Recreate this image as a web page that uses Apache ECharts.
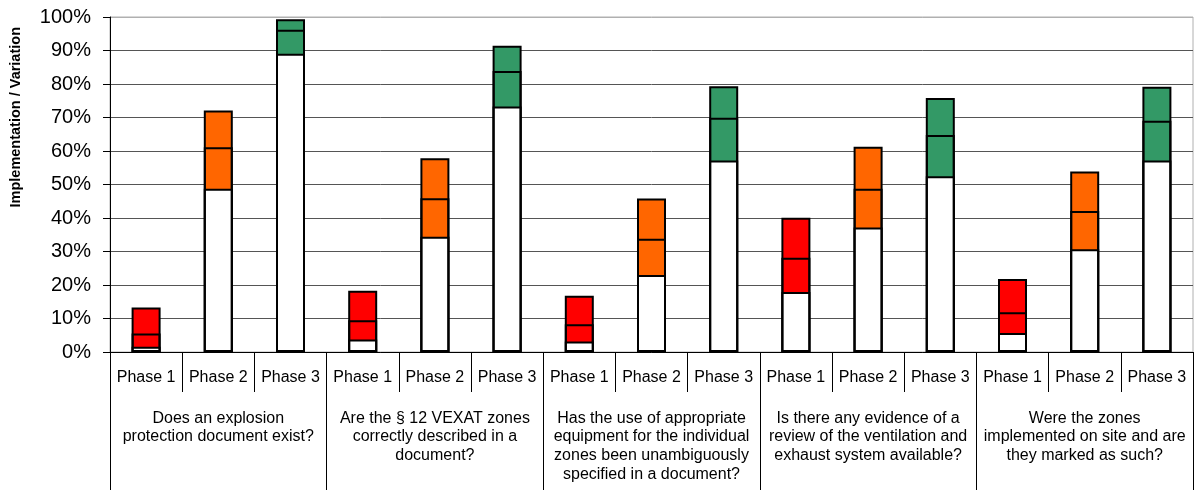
<!DOCTYPE html>
<html>
<head>
<meta charset="utf-8">
<script src="https://cdn.jsdelivr.net/npm/echarts@6/dist/echarts.min.js"></script>
<style>html,body{margin:0;padding:0;background:#fff}#chart{width:1196px;height:492px}</style>
</head>
<body>
<div id="chart"></div>
<script>
const phases = ['Phase 1', 'Phase 2', 'Phase 3'];
const questions = [
  'Does an explosion\nprotection document exist?',
  'Are the § 12 VEXAT zones\ncorrectly described in a\ndocument?',
  'Has the use of appropriate\nequipment for the individual\nzones been unambiguously\nspecified in a document?',
  'Is there any evidence of a\nreview of the ventilation and\nexhaust system available?',
  'Were the zones\nimplemented on site and are\nthey marked as such?'
];
const yTicks = [0, 10, 20, 30, 40, 50, 60, 70, 80, 90, 100];
const yName = 'Implementation / Variation';
// lower bound, mean, upper bound (%) per bar, in order question x phase
const lowVals  = [1.6, 48.7, 89.0, 3.7, 34.4, 73.3, 3.1, 23.0, 57.2, 17.9, 37.2, 52.5, 5.7, 30.7, 57.2];
const meanVals = [5.5, 61.1, 96.2, 9.5, 45.9, 83.9, 8.3, 33.8, 69.9, 28.1, 48.7, 64.8, 11.9, 42.1, 69.0];
const highVals = [13.3, 72.1, 99.3, 18.3, 57.8, 91.4, 16.8, 45.8, 79.3, 40.1, 61.3, 75.8, 21.8, 53.9, 79.2];
const phaseColors = ['#FF0000', '#FF6600', '#339966'];

const categories = [];
questions.forEach(() => phases.forEach(p => categories.push(p)));

const font = '"Liberation Sans", Arial, sans-serif';
const border = { borderColor: '#000', borderWidth: 2 };

const highData = highVals.map((v, i) => ({ value: v, itemStyle: Object.assign({ color: phaseColors[i % 3] }, border) }));
const lowData = lowVals.map(v => ({ value: v, itemStyle: Object.assign({ color: '#fff' }, border) }));
const meanData = meanVals.map(v => ({ value: v, itemStyle: Object.assign({ color: 'rgba(0,0,0,0)' }, border) }));

const splitColors = yTicks.map((t, i) => i === yTicks.length - 1 ? '#b0b0b0' : '#555');

const chart = echarts.init(document.getElementById('chart'), null, { renderer: 'canvas' });
chart.setOption({
  animation: false,
  backgroundColor: '#fff',
  textStyle: { fontFamily: font },
  grid: { left: 110, right: 3, top: 17, bottom: 140, show: true, borderColor: '#b0b0b0', borderWidth: 1, containLabel: false },
  xAxis: [
    {
      type: 'category', data: categories, position: 'bottom',
      axisLine: { show: true, lineStyle: { color: '#000', width: 1 } },
      axisTick: { show: true, length: 40, interval: 0, lineStyle: { color: '#000' } },
      axisLabel: { interval: 0, margin: 18, fontSize: 16, color: '#000', fontFamily: font },
      splitLine: { show: false }
    },
    {
      type: 'category', data: questions, position: 'bottom',
      axisLine: { show: false },
      axisTick: { show: true, length: 138, interval: 0, lineStyle: { color: '#000' } },
      axisLabel: { interval: 0, margin: 57, fontSize: 16, lineHeight: 18.7, color: '#000', fontFamily: font, align: 'center' },
      splitLine: { show: false }
    }
  ],
  yAxis: {
    type: 'value', min: 0, max: 100, interval: 10,
    axisLine: { show: true, lineStyle: { color: '#000', width: 1 } },
    axisTick: { show: true, length: 7, lineStyle: { color: '#000' } },
    axisLabel: { formatter: '{value}%', fontSize: 20, color: '#000', margin: 19, fontFamily: font },
    splitLine: { show: true, lineStyle: { color: splitColors, width: 1 } }
  },
  graphic: [{
    type: 'text', left: 8, top: 131 - 104, rotation: Math.PI / 2,
    style: { text: yName, font: 'bold 14.5px ' + font, fill: '#000' }
  }],
  series: [
    { type: 'bar', barWidth: 29, barGap: '-100%', data: highData, xAxisIndex: 0, z: 2 },
    { type: 'bar', barWidth: 29, barGap: '-100%', data: lowData, xAxisIndex: 0, z: 3 },
    { type: 'bar', barWidth: 29, barGap: '-100%', data: meanData, xAxisIndex: 0, z: 4 }
  ]
});
</script>
</body>
</html>
